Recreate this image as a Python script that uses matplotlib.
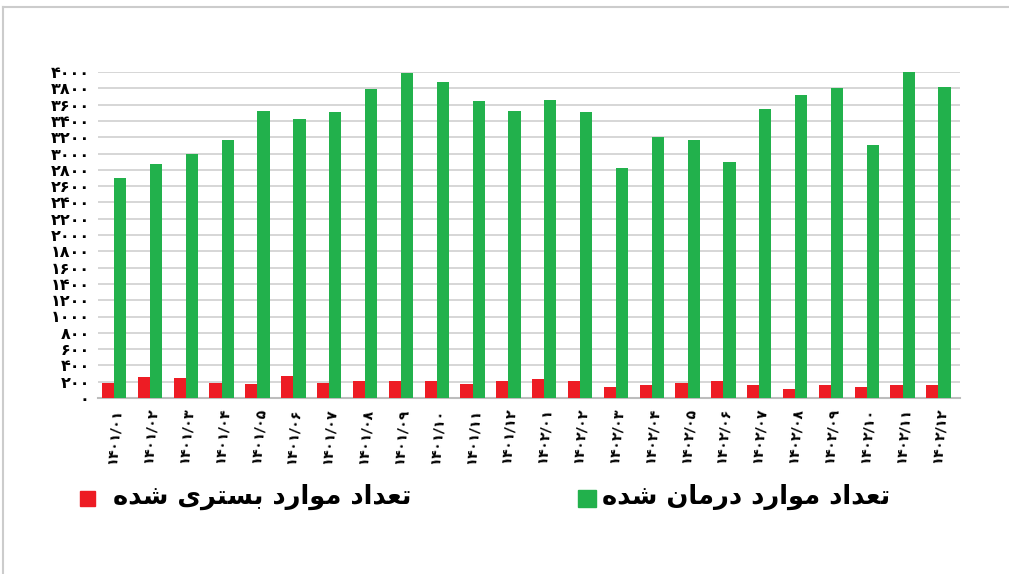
import matplotlib
matplotlib.use('Agg')
import matplotlib.pyplot as plt
from matplotlib.lines import Line2D
from matplotlib.patches import Rectangle
import numpy as np

# data (monthly counts)
months = ['۱۴۰۱/۰۱', '۱۴۰۱/۰۲', '۱۴۰۱/۰۳', '۱۴۰۱/۰۴', '۱۴۰۱/۰۵', '۱۴۰۱/۰۶',
          '۱۴۰۱/۰۷', '۱۴۰۱/۰۸', '۱۴۰۱/۰۹', '۱۴۰۱/۱۰', '۱۴۰۱/۱۱', '۱۴۰۱/۱۲',
          '۱۴۰۲/۰۱', '۱۴۰۲/۰۲', '۱۴۰۲/۰۳', '۱۴۰۲/۰۴', '۱۴۰۲/۰۵', '۱۴۰۲/۰۶',
          '۱۴۰۲/۰۷', '۱۴۰۲/۰۸', '۱۴۰۲/۰۹', '۱۴۰۲/۱۰', '۱۴۰۲/۱۱', '۱۴۰۲/۱۲']
treated = [2700, 2870, 3000, 3160, 3520, 3420, 3510, 3790, 3985, 3880, 3645, 3520,
           3660, 3510, 2820, 3200, 3160, 2890, 3540, 3720, 3800, 3110, 4000, 3820]
hospitalized = [190, 257, 240, 190, 177, 270, 190, 213, 213, 213, 170, 213,
                236, 213, 133, 156, 190, 213, 156, 116, 156, 137, 156, 156]
label_hosp = 'تعداد موارد بستری شده'
label_treat = 'تعداد موارد درمان شده'

RED = '#ED1C24'
GREEN = '#22B14C'

# matplotlib has no arabic shaping, so pick presentation forms by hand
# (isolated, final, initial, medial)
FORMS = {
    'ا': ('\uFE8D', '\uFE8E', None, None),
    'ب': ('\uFE8F', '\uFE90', '\uFE91', '\uFE92'),
    'ت': ('\uFE95', '\uFE96', '\uFE97', '\uFE98'),
    'د': ('\uFEA9', '\uFEAA', None, None),
    'ر': ('\uFEAD', '\uFEAE', None, None),
    'س': ('\uFEB1', '\uFEB2', '\uFEB3', '\uFEB4'),
    'ش': ('\uFEB5', '\uFEB6', '\uFEB7', '\uFEB8'),
    'ع': ('\uFEC9', '\uFECA', '\uFECB', '\uFECC'),
    'م': ('\uFEE1', '\uFEE2', '\uFEE3', '\uFEE4'),
    'ن': ('\uFEE5', '\uFEE6', '\uFEE7', '\uFEE8'),
    'ه': ('\uFEE9', '\uFEEA', '\uFEEB', '\uFEEC'),
    'و': ('\uFEED', '\uFEEE', None, None),
    'ی': ('\uFBFC', '\uFBFD', '\uFBFE', '\uFBFF'),
}


def shape(text):
    out = []
    for i, ch in enumerate(text):
        if ch not in FORMS:
            out.append(ch)
            continue
        prev = text[i - 1] if i > 0 else ''
        nxt = text[i + 1] if i + 1 < len(text) else ''
        join_prev = prev in FORMS and FORMS[prev][2] is not None
        join_next = FORMS[ch][2] is not None and nxt in FORMS
        iso, fin, ini, med = FORMS[ch]
        if join_prev and join_next:
            out.append(med)
        elif join_prev:
            out.append(fin)
        elif join_next:
            out.append(ini)
        else:
            out.append(iso)
    return ''.join(out)[::-1]


def fa_digits(v):
    return str(int(v)).translate(str.maketrans('0123456789', '۰۱۲۳۴۵۶۷۸۹'))


fig = plt.figure(figsize=(10.09, 5.74), dpi=100)
ax = fig.add_axes([98 / 1009, 1 - 398 / 574, 862 / 1009, 326 / 574])

x = np.arange(len(months))
w = 0.34
ax.bar(x - w / 2, hospitalized, width=w, color=RED, zorder=3)
ax.bar(x + w / 2, treated, width=w, color=GREEN, zorder=3)

ax.set_ylim(0, 4000)
ax.set_xlim(-0.45, len(months) - 0.4)
yt = np.arange(0, 4001, 200)
ax.set_yticks(yt)
ax.set_yticklabels([fa_digits(v) for v in yt], fontsize=11.5, fontweight='bold',
                   family='DejaVu Sans')
ax.set_xticks(x)
ax.set_xticklabels(months, rotation=85, fontsize=10, fontweight='bold',
                   family='DejaVu Sans', va='top', ha='center')
ax.tick_params(axis='both', length=0, pad=6)
ax.tick_params(axis='x', pad=7)
ax.grid(axis='y', color='#cfcfcf', linewidth=1.2, zorder=0)
for s in ['top', 'right', 'left']:
    ax.spines[s].set_visible(False)
ax.spines['bottom'].set_color('#bdbdbd')
ax.spines['bottom'].set_linewidth(1.5)

# legend drawn by hand, like the original
fig.patches.append(Rectangle((80 / 1009, 1 - 506 / 574), 15 / 1009, 15 / 574,
                             color=RED, transform=fig.transFigure))
fig.text(411 / 1009, 1 - 497 / 574, shape(label_hosp), fontsize=18.5, fontweight='bold',
         ha='right', va='center', family='DejaVu Sans')
fig.patches.append(Rectangle((578 / 1009, 1 - 507 / 574), 18 / 1009, 17 / 574,
                             color=GREEN, transform=fig.transFigure))
fig.text(890 / 1009, 1 - 497 / 574, shape(label_treat), fontsize=18.5, fontweight='bold',
         ha='right', va='center', family='DejaVu Sans')

# thin frame at top and left edge
fig.lines.append(Line2D([3 / 1009, 1], [1 - 7 / 574, 1 - 7 / 574], color='#cccccc',
                        linewidth=1.5, transform=fig.transFigure))
fig.lines.append(Line2D([3 / 1009, 3 / 1009], [0, 1 - 7 / 574], color='#cccccc',
                        linewidth=1.5, transform=fig.transFigure))

fig.savefig('out.png', dpi=100)
